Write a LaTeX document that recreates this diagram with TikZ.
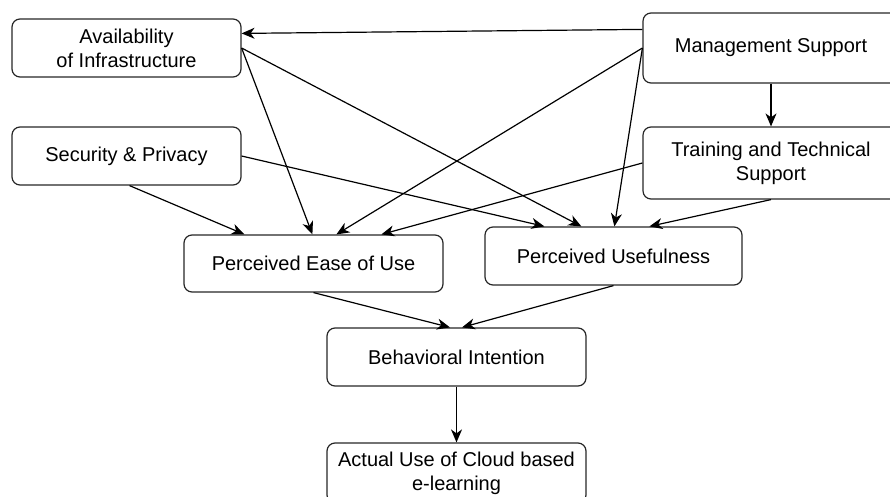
\documentclass[tikz,border=0pt]{standalone}
\usepackage{fontspec}
\setmainfont{Liberation Sans}
\usetikzlibrary{arrows.meta}
\begin{document}
\begin{tikzpicture}[x=1pt,y=-1pt,
  box/.style={draw=black!85, line width=1.2pt, rounded corners=8pt,
    inner sep=0pt, align=center, font=\fontsize{20}{24}\selectfont},
  link/.style={draw=black, line width=1.2pt,
    -{Stealth[length=13pt,width=11pt,inset=4pt]}}]
\useasboundingbox (0,0) rectangle (890,497);
\clip (0,0) rectangle (890,497);

% factors
\node[box, minimum width=229pt, minimum height=58pt] (avail) at (126.5,48)
  {Availability\\of Infrastructure};
\node[box, minimum width=229pt, minimum height=58pt] (sec) at (126.5,156)
  {Security \& Privacy};
\node[box, minimum width=256pt, minimum height=70pt] (ms) at (771,48)
  {Management Support};
\node[box, minimum width=256pt, minimum height=72pt] (tts) at (771,163)
  {Training and Technical\\Support};

% perceptions
\node[box, minimum width=259pt, minimum height=57pt] (peou) at (313.5,263.5)
  {Perceived Ease of Use};
\node[box, minimum width=257pt, minimum height=58pt] (pu) at (613.5,256)
  {Perceived Usefulness};

% outcome
\node[box, minimum width=259pt, minimum height=58pt] (bi) at (456.5,357)
  {Behavioral Intention};
\node[box, minimum width=259pt, minimum height=60pt] (au) at (456.5,473)
  {Actual Use of Cloud based\\e-learning};

% connectors
\draw[link] ([yshift=-17pt]ms.north west) -- ([yshift=-15pt]avail.north east);
\draw[link] (ms.south) -- (tts.north);
\draw[link] (avail.east) -- ([xshift=129pt]peou.north west);
\draw[link] (avail.east) -- ([xshift=97pt]pu.north west);
\draw[link] ([xshift=3pt]sec.south) -- ([xshift=61pt]peou.north west);
\draw[link] (sec.east) -- ([xshift=60pt]pu.north west);
\draw[link] (ms.west) -- ([xshift=153pt]peou.north west);
\draw[link] (ms.west) -- ([xshift=130pt]pu.north west);
\draw[link] (tts.west) -- ([xshift=198pt]peou.north west);
\draw[link] (tts.south) -- ([xshift=165pt]pu.north west);
\draw[link] (peou.south) -- ([xshift=-6.5pt]bi.north);
\draw[link] (pu.south) -- ([xshift=5.5pt]bi.north);
\draw[link] (bi.south) -- (au.north);
\end{tikzpicture}
\end{document}
